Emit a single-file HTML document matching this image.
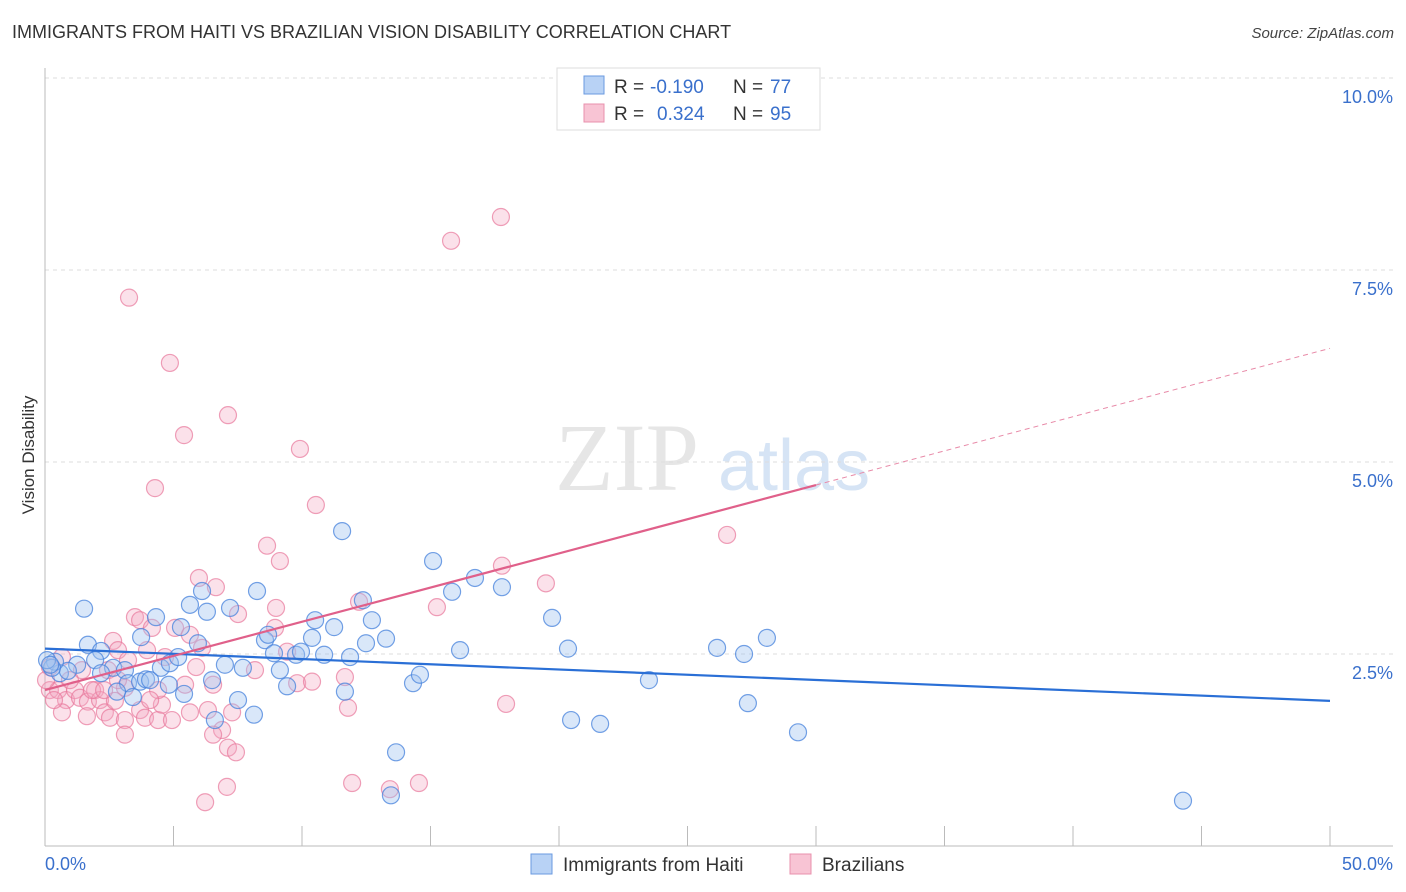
<!DOCTYPE html>
<html><head><meta charset="utf-8">
<style>
body{margin:0;background:#fff;font-family:"Liberation Sans",sans-serif;}
#wrap{position:relative;width:1406px;height:892px;overflow:hidden;}
.t{position:absolute;white-space:nowrap;}
</style></head>
<body>
<div id="wrap">
<div class="t" style="left:12px;top:22px;font-size:18px;color:#333;">IMMIGRANTS FROM HAITI VS BRAZILIAN VISION DISABILITY CORRELATION CHART</div>
<div class="t" style="right:12px;top:25px;font-size:15px;color:#444;font-style:italic;">Source: ZipAtlas.com</div>
<svg id="svg" width="1406" height="892" style="position:absolute;left:0;top:0"></svg>
</div>
<script>
const yTicks=[2.5,5.0,7.5,10.0];
const yTickLabels=["2.5%","5.0%","7.5%","10.0%"];
const xTickLabels=["0.0%","50.0%"];
const haitiX=[1.52,1.67,2.18,1.25,0.58,0.89,0.39,0.27,1.95,2.65,3.11,2.18,3.23,2.80,3.42,3.70,3.93,4.09,4.32,3.74,4.51,4.86,5.18,5.29,4.82,5.41,5.64,5.95,6.30,6.11,6.50,6.61,7.00,7.20,7.51,7.70,8.13,8.25,8.56,8.68,8.91,9.14,9.42,9.77,9.96,10.39,10.51,10.86,11.25,11.56,11.67,11.87,12.37,12.49,12.72,13.27,13.66,13.46,14.32,14.59,15.10,15.84,16.15,16.73,17.78,19.73,20.35,20.47,21.60,23.50,26.15,27.20,27.35,28.09,29.30,44.28,0.08,0.20];
const haitiY=[3.09,2.62,2.54,2.36,2.25,2.28,2.40,2.32,2.42,2.32,2.29,2.25,2.12,2.01,1.94,2.14,2.17,2.16,2.98,2.72,2.32,2.38,2.46,2.85,2.10,1.98,3.14,2.64,3.05,3.32,2.16,1.64,2.36,3.10,1.90,2.32,1.71,3.32,2.68,2.75,2.51,2.29,2.08,2.49,2.53,2.71,2.94,2.49,2.85,4.10,2.01,2.46,3.20,2.64,2.94,2.70,1.22,0.66,2.12,2.23,3.71,3.31,2.55,3.49,3.37,2.97,2.57,1.64,1.59,2.16,2.58,2.50,1.86,2.71,1.48,0.59,2.42,2.36];
const brazX=[3.27,4.86,7.12,5.41,4.28,9.92,10.54,15.80,17.74,26.54,19.49,17.78,15.25,12.22,8.64,9.14,5.99,6.65,7.51,8.99,8.95,9.42,9.81,10.39,11.67,11.79,11.95,13.42,14.55,17.94,7.08,6.23,3.50,3.70,4.16,2.65,2.84,3.97,5.06,5.64,6.11,5.88,4.67,3.23,2.45,1.44,0.66,0.19,0.19,0.51,0.82,0.66,1.17,1.36,1.67,1.95,2.14,1.83,2.33,1.63,2.53,3.11,2.72,3.11,3.70,3.89,4.40,4.55,4.40,4.94,5.64,6.34,6.54,6.89,7.12,7.43,7.28,6.54,8.17,3.11,2.30,4.09,5.45,0.04,0.35,0.97,2.84];
const brazY=[7.14,6.29,5.61,5.35,4.66,5.17,4.44,7.88,8.19,4.05,3.42,3.65,3.11,3.18,3.91,3.71,3.49,3.37,3.02,3.10,2.84,2.53,2.12,2.14,2.20,1.80,0.82,0.74,0.82,1.85,0.77,0.57,2.98,2.94,2.84,2.67,2.55,2.55,2.84,2.75,2.58,2.33,2.46,2.42,2.29,2.29,2.46,2.33,2.03,2.03,1.90,1.74,2.03,1.93,1.88,2.03,1.90,2.03,1.74,1.69,1.67,1.64,1.89,1.45,1.77,1.67,1.64,1.84,2.03,1.64,1.74,1.77,2.10,1.51,1.28,1.22,1.74,1.45,2.29,2.06,2.03,1.90,2.10,2.16,1.90,2.16,2.16];
const haitiTrend=[2.57,1.89];
const brazTrend=[2.03,6.48];
const brazSolidEnd=30;

const NS="http://www.w3.org/2000/svg";
const svg=document.getElementById('svg');
const X0=45,X1=1330,Y0=846,PX=76.8;
const sx=v=>X0+(X1-X0)*v/50;
const sy=v=>Y0-v*PX;
function mk(tag,attrs,parent){const e=document.createElementNS(NS,tag);for(const k in attrs)e.setAttribute(k,attrs[k]);(parent||svg).appendChild(e);return e;}

// watermark
let wm=mk('text',{x:555,y:490,'font-size':96,'font-family':'Liberation Serif',fill:'#e6e6e6'});


wm.textContent='ZIP';
let wm2=mk('text',{x:718,y:490,'font-size':72,'font-family':'Liberation Sans',fill:'#d6e4f5'});


wm2.textContent='atlas';

// gridlines
mk('line',{x1:X0,x2:1393,y1:78,y2:78,stroke:'#ddd','stroke-dasharray':'4,4'});
yTicks.forEach((t,i)=>{
 const g=mk('line',{x1:X0,x2:1393,y1:sy(t),y2:sy(t),stroke:'#ddd','stroke-dasharray':'4,4'});
 
 
 const l=mk('text',{x:1393,y:sy(t)+25,'text-anchor':'end','font-size':18,fill:'#3a70cc'});
 
 
 l.textContent=yTickLabels[i];
});
// axes
const ya=mk('line',{x1:X0,x2:X0,y1:68,y2:Y0,stroke:'#bbb'});


const xa=mk('line',{x1:X0,x2:1393,y1:Y0,y2:Y0,stroke:'#bbb'});


for(let i=0;i<=10;i++){const tk=mk('line',{x1:sx(i*5),x2:sx(i*5),y1:Y0,y2:Y0-20+ (i==0?20:0),stroke:'#bbb'});

}
const xl0=mk('text',{x:45,y:870,'font-size':18,fill:'#3a70cc'});


xl0.textContent=xTickLabels[0];
const xl1=mk('text',{x:1393,y:870,'text-anchor':'end','font-size':18,fill:'#3a70cc'});


xl1.textContent=xTickLabels[1];
const yt=mk('text',{x:34,y:455,'font-size':17,fill:'#333','text-anchor':'middle',transform:'rotate(-90 34 455)'});


yt.textContent='Vision Disability';

// points
brazX.forEach((x,i)=>{const c=mk('circle',{cx:sx(x),cy:sy(brazY[i]),r:8.5,fill:'rgba(244,170,195,0.35)',stroke:'rgba(232,120,155,0.7)','stroke-width':1.2});

});
haitiX.forEach((x,i)=>{const c=mk('circle',{cx:sx(x),cy:sy(haitiY[i]),r:8.5,fill:'rgba(160,195,240,0.4)',stroke:'rgba(70,130,220,0.75)','stroke-width':1.2});

});

// trend lines
const bt=mk('line',{x1:sx(0),y1:sy(haitiTrend[0]),x2:sx(50),y2:sy(haitiTrend[1]),stroke:'#2a6fd6','stroke-width':2.2});


const pv=x=>brazTrend[0]+(brazTrend[1]-brazTrend[0])*x/50;
const pt=mk('line',{x1:sx(0),y1:sy(pv(0)),x2:sx(brazSolidEnd),y2:sy(pv(brazSolidEnd)),stroke:'#e0608a','stroke-width':2.2});


const pd=mk('line',{x1:sx(brazSolidEnd),y1:sy(pv(brazSolidEnd)),x2:sx(50),y2:sy(pv(50)),stroke:'#e88aa8','stroke-width':1,'stroke-dasharray':'5,4'});



// legend box
const lg=mk('g',{});


mk('rect',{x:557,y:68,width:263,height:62,fill:'#fff',stroke:'#ddd'},lg);
mk('rect',{x:584,y:76,width:20,height:18,fill:'#b8d2f5',stroke:'#6a9ae0'},lg);
mk('rect',{x:584,y:104,width:20,height:18,fill:'#f8c4d4',stroke:'#e890ad'},lg);
function lt(x,y,s,c){const t=mk('text',{x:x,y:y,'font-size':19,fill:c},lg);t.textContent=s;return t;}
lt(614,93,'R = ','#333');lt(650,93,'-0.190','#3a70cc');lt(733,93,'N = ','#333');lt(770,93,'77','#3a70cc');
lt(614,120,'R = ','#333');lt(657,120,'0.324','#3a70cc');lt(733,120,'N = ','#333');lt(770,120,'95','#3a70cc');

// bottom legend
const bl=mk('g',{});


mk('rect',{x:531,y:854,width:21,height:20,fill:'#b8d2f5',stroke:'#6a9ae0'},bl);
mk('rect',{x:790,y:854,width:21,height:20,fill:'#f8c4d4',stroke:'#e890ad'},bl);
const b1=mk('text',{x:563,y:871,'font-size':19,fill:'#333'},bl);b1.textContent='Immigrants from Haiti';
const b2=mk('text',{x:822,y:871,'font-size':19,fill:'#333'},bl);b2.textContent='Brazilians';
</script>
</body></html>
